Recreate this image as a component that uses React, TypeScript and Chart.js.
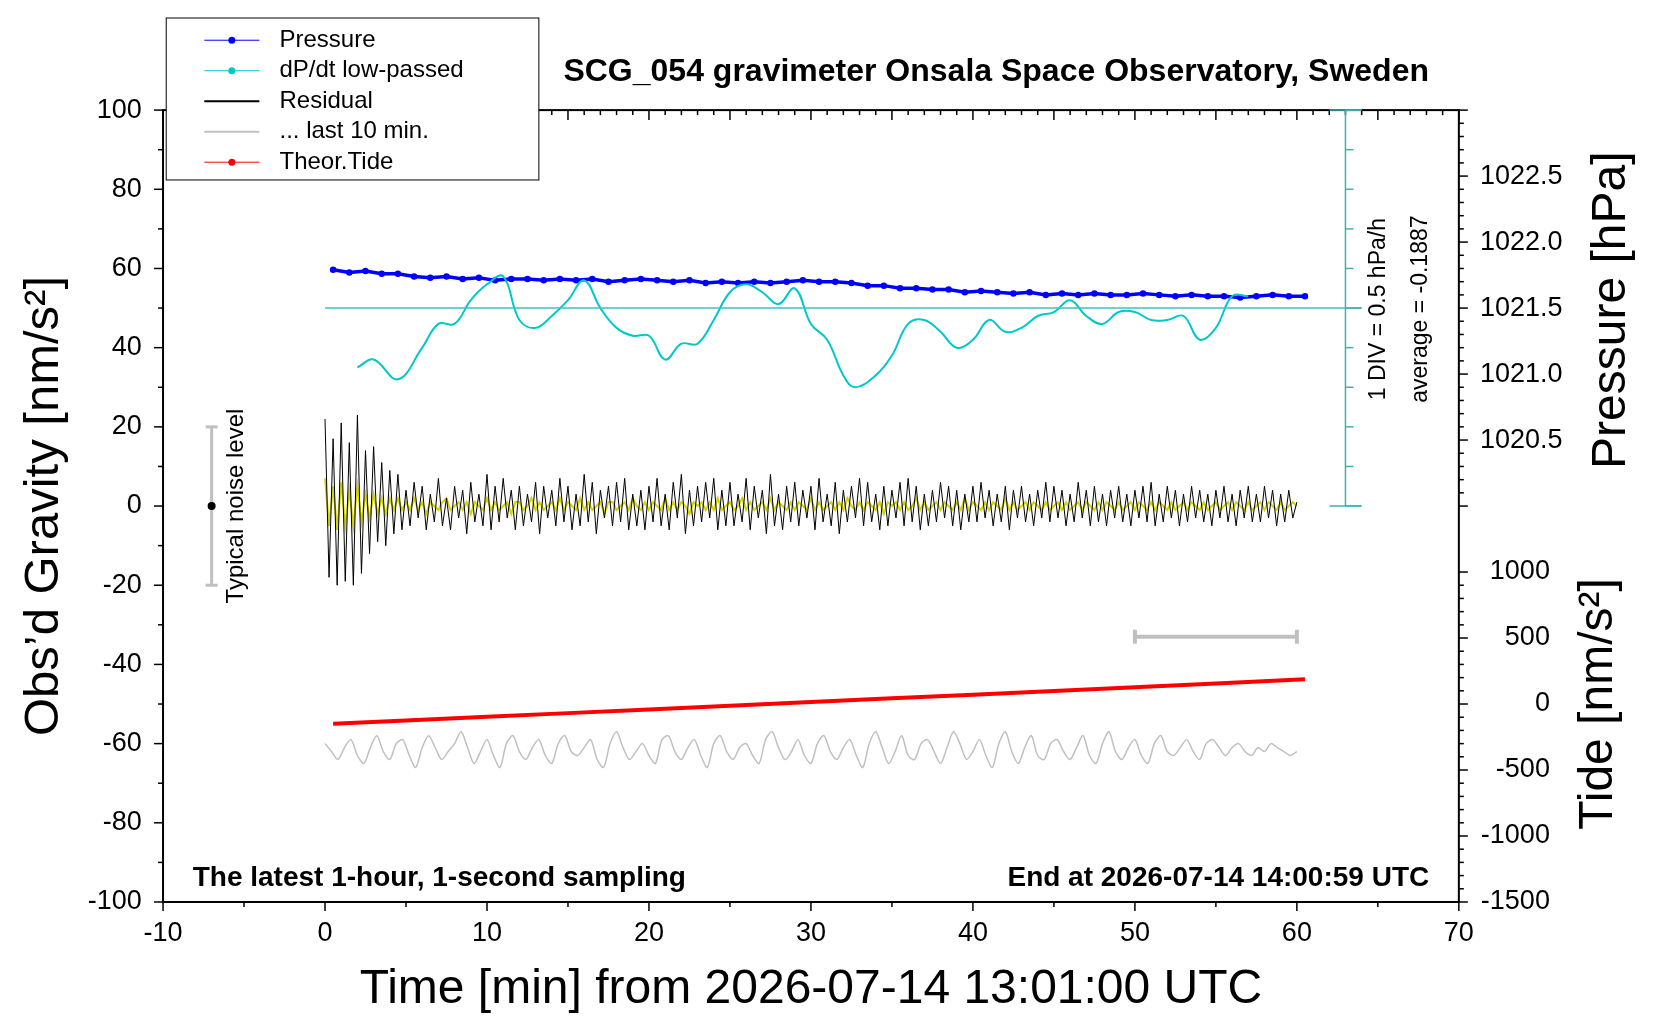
import React, { useEffect, useRef } from "react";
import { Chart, registerables } from "chart.js";
Chart.register(...registerables);

const xTicks = [-10, 0, 10, 20, 30, 40, 50, 60, 70];
const yTicks = [100, 80, 60, 40, 20, 0, -20, -40, -60, -80, -100];
const pTicks = [1020.5, 1021.0, 1021.5, 1022.0, 1022.5];
const tTicks = [-1500, -1000, -500, 0, 500, 1000];

const residual = [22,-18,17,-20,21,-19,16,-20,23,-17,14,-12,15,-9,11,-10,9,-7,8,-6,
4,-5,6,-3,5,-6,3,-4,7,-5,2,-6,5,-3,4,-7,6,-4,3,-5,
8,-6,5,-4,7,-3,4,-6,5,-5,3,-4,6,-7,5,-3,4,-5,7,-4,
5,-6,3,-5,8,-4,6,-7,4,-3,5,-5,6,-4,7,-6,3,-5,4,-6,
5,-4,7,-5,3,-6,6,-3,8,-7,4,-5,5,-4,6,-3,7,-6,4,-5,
6,-5,3,-4,7,-6,5,-3,4,-7,8,-5,3,-6,5,-4,6,-5,4,-3,
5,-6,7,-4,3,-5,6,-7,4,-4,5,-3,7,-5,6,-4,3,-6,5,-5,
4,-3,6,-5,7,-4,5,-6,3,-5,4,-4,6,-3,5,-5,4,-6,3,-4,
5,-4,6,-3,4,-5,3,-4,5,-6,4,-3,5,-4,3,-5,4,-3,6,-4,
5,-3,4,-5,3,-4,6,-3,4,-5,5,-4,3,-5,4,-3,5,-4,3,-5,
4,-3,5,-4,6,-5,3,-4,5,-3,4,-5,3,-4,5,-3,4,-4,3,-5,
4,-3,5,-4,3,-5,4,-3,5,-4,3,-4,5,-3,4,-5,3,-4,4,-3,1];

const lowpassed = [7,-5,5,-6,6,-5,4,-5,5,-4,3,-3,3,-2,2,-2,2,-1,2,-1,
1,-1,2,-1,1,-2,1,0,-1,1,2,-1,0,1,-1,1,-2,1,0,-1,
2,-1,1,-1,0,1,-2,1,1,-1,0,2,-1,1,-1,0,1,-1,2,-1,
1,0,-1,2,-1,1,-1,0,1,-2,1,1,-1,0,1,-1,2,0,-1,1,
-1,1,0,-1,2,-1,1,-1,1,0,-2,1,0,1,-1,1,-1,2,-1,0,
1,-1,0,2,-1,1,-1,0,1,-1,2,-1,1,0,-1,1,-1,1,0,-1,
2,-1,1,-1,0,1,-1,1,-1,2,0,-1,1,-1,1,0,-1,1,-2,1,
0,1,-1,1,-1,0,2,-1,1,-1,0,1,-1,1,0,-1,1,-1,2,-1,
1,0,-1,1,-1,1,0,-1,2,-1,1,-1,0,1,-1,1,0,-1,1,-1,
0,1,-1,1,-1,0,1,-1,1,0,-1,1,-1,1,0,-1,1,-1,0,1,
-1,1,0,-1,1,-1,1,0,-1,1,-1,0,1,-1,1,0,-1,1,-1,0,
1,-1,0,1,-1,1,0,-1,1,-1,0,1,-1,1,0,-1,1,-1,0,1,0];

const last10 = [-60,-62,-64,-61,-59,-63,-65,-61,-58,-62,-64,-60,-59,-63,-66,-61,-58,-61,-64,-62,
-60,-57,-61,-65,-62,-59,-63,-66,-60,-58,-62,-64,-61,-59,-63,-65,-60,-58,-62,-63,
-61,-59,-64,-66,-60,-57,-61,-64,-62,-60,-63,-65,-59,-58,-62,-64,-61,-59,-63,-66,
-60,-58,-62,-64,-61,-60,-63,-65,-59,-57,-61,-64,-62,-59,-63,-65,-60,-58,-62,-64,
-61,-59,-63,-66,-60,-57,-61,-65,-62,-58,-63,-64,-60,-59,-62,-65,-61,-57,-60,-64,
-62,-59,-63,-66,-60,-57,-62,-65,-61,-58,-63,-64,-60,-59,-62,-64,-61,-58,-63,-65,
-60,-57,-62,-64,-61,-59,-63,-65,-60,-58,-62,-63,-61,-59,-62,-64,-60,-59,-61,-63,
-61,-60,-62,-63,-61,-62,-60,-61,-62,-63,-62];

const pressure = [1021.79,1021.77,1021.78,1021.76,1021.76,1021.74,1021.73,1021.74,1021.72,1021.73,
1021.71,1021.72,1021.72,1021.71,1021.72,1021.71,1021.72,1021.70,1021.71,1021.72,
1021.71,1021.70,1021.71,1021.69,1021.70,1021.69,1021.70,1021.69,1021.70,1021.71,
1021.70,1021.70,1021.69,1021.67,1021.67,1021.65,1021.65,1021.64,1021.64,1021.62,
1021.63,1021.62,1021.61,1021.62,1021.60,1021.61,1021.60,1021.61,1021.60,1021.60,
1021.61,1021.60,1021.59,1021.60,1021.59,1021.59,1021.58,1021.59,1021.60,1021.59,1021.59];

const dpX = [2,3,4.5,6,7,8,9,10,11,12,13,14,15,16,17,18,19,20,21,22,23,24,25,26,27,28,29,30,31,32,32.7,34,35,36,37,38,39,40,41,42,43,44,45,46,47,48,49,50,51,52,53,54,55,56,57];
const dpY = [35,37,32,40,46,46,52,56,58,47,45,48,52,57,50,45,43,43,37,41,41,47,54,56,54,51,55,46,42,33,30,33,38,46,47,44,40,42,47,44,45,48,49,52,48,46,49,49,47,47,48,42,45,53,53];

const tideX = [0.5,5,10,15,20,25,30,35,40,45,50,55,60.5];
const tideY = [-150,-125,-97,-69,-41,-13,15,43,71,99,127,155,188];

const legendItems = [
  { label: "Pressure", color: "#0000ff", dot: true },
  { label: "dP/dt low-passed", color: "#00c8c8", dot: true },
  { label: "Residual", color: "#000000", dot: false },
  { label: "... last 10 min.", color: "#c0c0c0", dot: false },
  { label: "Theor.Tide", color: "#ff0000", dot: true },
];

const FONT = "'Liberation Sans', Arial, sans-serif";
const K = 1660 / 1568;
const k = (n: number) => n * K;
const f = (n: number, bold = false) => `${bold ? "bold " : ""}${Math.round(n * K)}px ${FONT}`;

export default function App() {
  const ref = useRef<HTMLCanvasElement>(null);
  useEffect(() => {
    const overlay = {
      id: "overlay",
      afterDraw(chart: any) {
        const c = chart.ctx;
        const a = chart.chartArea;
        const sx = chart.scales.x, sy = chart.scales.y, sp = chart.scales.yP, st = chart.scales.yT;
        c.save();
        c.strokeStyle = "#000"; c.fillStyle = "#000"; c.lineWidth = 2;
        c.strokeRect(a.left, a.top, a.right - a.left, a.bottom - a.top);
        c.lineWidth = 1.5;
        const line = (x1: number, y1: number, x2: number, y2: number) => { c.beginPath(); c.moveTo(x1, y1); c.lineTo(x2, y2); c.stroke(); };
        for (let v = -10; v <= 70; v += 1) {
          const px = sx.getPixelForValue(v);
          if (v % 10 === 0) line(px, a.bottom, px, a.bottom + 9);
          else if (v % 5 === 0) line(px, a.bottom, px, a.bottom + 5);
          line(px, a.top, px, a.top + (v % 5 === 0 ? 10 : 5));
        }
        c.font = f(25.5); c.textAlign = "center"; c.textBaseline = "middle";
        xTicks.forEach(v => c.fillText(String(v), sx.getPixelForValue(v), k(882)));
        for (let v = -100; v <= 100; v += 10) {
          const py = sy.getPixelForValue(v);
          line(a.left - (v % 20 === 0 ? 9 : 5), py, a.left, py);
        }
        c.textAlign = "right";
        yTicks.forEach(v => c.fillText(String(v), a.left - k(20), sy.getPixelForValue(v)));
        for (let v = 10200; v <= 10230; v += 1) {
          const py = sp.getPixelForValue(v / 10);
          line(a.right, py, a.right + (v % 5 === 0 ? 9 : 5), py);
        }
        c.textAlign = "left";
        pTicks.forEach(v => c.fillText(v.toFixed(1), a.right + k(20), sp.getPixelForValue(v)));
        for (let v = -1500; v <= 1000; v += 100) {
          const py = st.getPixelForValue(v);
          line(a.right, py, a.right + (v % 500 === 0 ? 9 : 5), py);
        }
        c.textAlign = "right";
        tTicks.forEach(v => c.fillText(String(v), a.right + k(86), st.getPixelForValue(v)));
        // cyan scale bar
        c.strokeStyle = "#40b0b0"; c.lineWidth = 1.5;
        const bx = sx.getPixelForValue(63);
        line(bx, sy.getPixelForValue(100), bx, sy.getPixelForValue(0));
        for (let v = 0; v <= 100; v += 10) {
          const py = sy.getPixelForValue(v);
          line(bx, py, bx + (v % 50 === 0 ? 16 : 8), py);
        }
        line(bx - 16, sy.getPixelForValue(0), bx + 16, sy.getPixelForValue(0));
        line(bx - 16, sy.getPixelForValue(100), bx + 16, sy.getPixelForValue(100));
        const rot = (t: string, x: number, y: number, font: string) => {
          c.save(); c.translate(x, y); c.rotate(-Math.PI / 2); c.font = font; c.fillStyle = "#000"; c.textAlign = "center"; c.textBaseline = "middle"; c.fillText(t, 0, 0); c.restore();
        };
        rot("1 DIV = 0.5 hPa/h", k(1302), k(292), f(22));
        rot("average = -0.1887", k(1342), k(292), f(22));
        // noise bar
        const nx = sx.getPixelForValue(-7);
        c.strokeStyle = "#c0c0c0"; c.lineWidth = 3;
        line(nx, sy.getPixelForValue(20), nx, sy.getPixelForValue(-20));
        line(nx - 6, sy.getPixelForValue(20), nx + 6, sy.getPixelForValue(20));
        line(nx - 6, sy.getPixelForValue(-20), nx + 6, sy.getPixelForValue(-20));
        c.fillStyle = "#000"; c.beginPath(); c.arc(nx, sy.getPixelForValue(0), 4, 0, Math.PI * 2); c.fill();
        rot("Typical noise level", k(223), k(478), f(22.5));
        // last 10 min bar
        c.strokeStyle = "#c0c0c0"; c.lineWidth = 4;
        const gy = sy.getPixelForValue(-33), g1 = sx.getPixelForValue(50), g2 = sx.getPixelForValue(60);
        line(g1, gy, g2, gy); line(g1, gy - 7, g1, gy + 7); line(g2, gy - 7, g2, gy + 7);
        // texts
        c.fillStyle = "#000"; c.textBaseline = "middle";
        c.font = f(30, true); c.textAlign = "center";
        c.fillText("SCG_054 gravimeter Onsala Space Observatory, Sweden", k(941), k(68));
        c.font = f(26.5, true); c.textAlign = "left";
        c.fillText("The latest 1-hour, 1-second sampling", k(182), k(830));
        c.textAlign = "right";
        c.fillText("End at 2026-07-14 14:00:59 UTC", k(1350), k(830));
        c.font = f(45); c.textAlign = "center";
        c.fillText("Time [min] from 2026-07-14 13:01:00 UTC", k(766), k(935));
        rot("Obs\u2019d Gravity [nm/s\u00b2]", k(42), k(478), f(46));
        rot("Pressure [hPa]", k(1522), k(293), f(45.5));
        rot("Tide [nm/s\u00b2]", k(1510), k(665), f(45.5));
        // legend
        c.fillStyle = "#fff"; c.fillRect(k(157), k(17), k(352), k(153));
        c.strokeStyle = "#000"; c.lineWidth = 1; c.strokeRect(k(157), k(17), k(352), k(153));
        c.font = f(22.5); c.textAlign = "left";
        legendItems.forEach((it, i) => {
          const y = k(38 + i * 28.8);
          c.strokeStyle = it.color; c.lineWidth = it.dot ? 1 : 2;
          line(k(193), y, k(245), y);
          if (it.dot) { c.fillStyle = it.color; c.beginPath(); c.arc(k(219), y, 3.5, 0, Math.PI * 2); c.fill(); }
          c.fillStyle = "#000"; c.fillText(it.label, k(264), y);
        });
        c.restore();
      },
    };
    const chart = new Chart(ref.current!, {
      type: "line",
      data: {
        datasets: [
          { data: last10.map((v, i) => ({ x: i * 0.4, y: v })), borderColor: "#c0c0c0", borderWidth: 1.5, pointRadius: 0, tension: 0.3, yAxisID: "y" },
          { data: residual.map((v, i) => ({ x: i * 0.25, y: v })), borderColor: "#000", borderWidth: 1, pointRadius: 0, yAxisID: "y" },
          { data: lowpassed.map((v, i) => ({ x: i * 0.25, y: v })), borderColor: "#d4d400", borderWidth: 2, pointRadius: 0, yAxisID: "y" },
          { data: [{ x: 0, y: 50 }, { x: 64, y: 50 }], borderColor: "#40c0c0", borderWidth: 1.5, pointRadius: 0, yAxisID: "y" },
          { data: dpX.map((x, i) => ({ x, y: dpY[i] })), borderColor: "#00c8c8", borderWidth: 2, pointRadius: 0, tension: 0.4, yAxisID: "y" },
          { data: pressure.map((v, i) => ({ x: 0.5 + i, y: v })), borderColor: "#0000ff", backgroundColor: "#0000ff", borderWidth: 3.5, pointRadius: 1.5, yAxisID: "yP" },
          { data: tideX.map((x, i) => ({ x, y: tideY[i] })), borderColor: "#ff0000", borderWidth: 4, pointRadius: 0, yAxisID: "yT" },
        ],
      },
      options: {
        animation: false, responsive: false,
        layout: { padding: { left: k(154), top: k(104), right: 1660 - k(1378), bottom: 1020 - k(852) } },
        plugins: { legend: { display: false }, tooltip: { enabled: false } },
        scales: {
          x: { type: "linear", min: -10, max: 70, display: false },
          y: { min: -100, max: 100, display: false },
          yP: { min: 1017, max: 1023, display: false },
          yT: { min: -1500, max: 4500, display: false },
        },
      },
      plugins: [overlay],
    } as any);
    return () => chart.destroy();
  }, []);
  return (
    <div style={{ position: "absolute", left: 0, top: 0, width: 1660, height: 1020, background: "#fff" }}>
      <canvas ref={ref} width={1660} height={1020} style={{ width: 1660, height: 1020 }} />
    </div>
  );
}
